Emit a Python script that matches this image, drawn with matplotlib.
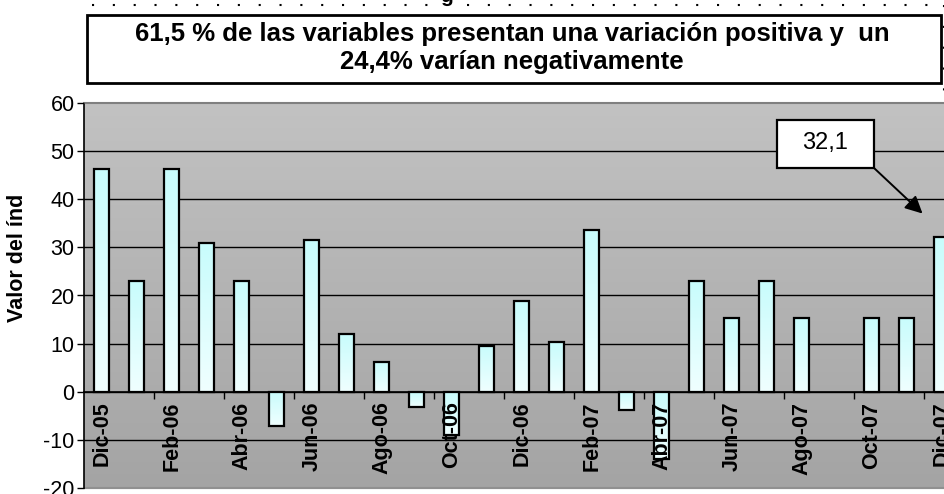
import numpy as np
import matplotlib
matplotlib.use("Agg")
import matplotlib.pyplot as plt
from matplotlib.colors import LinearSegmentedColormap
from matplotlib.patches import Rectangle
from matplotlib.lines import Line2D

plt.rcParams['font.family'] = ['Liberation Sans', 'DejaVu Sans']
plt.rcParams['axes.unicode_minus'] = False

# datos
meses = ['Dic-05', 'Ene-06', 'Feb-06', 'Mar-06', 'Abr-06', 'May-06', 'Jun-06',
         'Jul-06', 'Ago-06', 'Sep-06', 'Oct-06', 'Nov-06', 'Dic-06', 'Ene-07',
         'Feb-07', 'Mar-07', 'Abr-07', 'May-07', 'Jun-07', 'Jul-07', 'Ago-07',
         'Sep-07', 'Oct-07', 'Nov-07', 'Dic-07']
valores = [46.2, 23.1, 46.2, 30.8, 23.1, -7.1, 31.6, 12.0, 6.3, -3.1, -9.0, 9.6,
           18.8, 10.3, 33.5, -3.8, -14.0, 23.1, 15.4, 23.1, 15.4, 0.0, 15.4, 15.4, 32.1]
titulo = ("61,5 % de las variables presentan una variación positiva y  un\n"
          "24,4% varían negativamente")
etiqueta_y = "Valor del índ"
anotacion = "32,1"

W, H = 945, 494
fig = plt.figure(figsize=(W / 100, H / 100), dpi=100)

def fx(px):
    return px / W

def fy(py):
    return 1 - py / H

# area de grafico (se sale por la derecha como en el original)
left, top, bottom = 84.3, 102.7, 488.3
ax = fig.add_axes([fx(left), fy(bottom), 875 / W, (bottom - top) / H])

x = np.arange(len(meses))
ymin, ymax = -20, 60

# fondo degradado gris
fondo = LinearSegmentedColormap.from_list('fondo', ['#a4a4a4', '#c2c2c2'])
ax.imshow(np.linspace(0, 1, 256).reshape(-1, 1), cmap=fondo, origin='lower',
          extent=[-0.5, len(meses) - 0.5, ymin, ymax], aspect='auto', zorder=0)

# lineas de division
for v in np.arange(ymin + 10, ymax, 10):
    ax.axhline(v, color='black', lw=1.0, zorder=1)

# barras con degradado cian
cian = LinearSegmentedColormap.from_list('cian', ['#f0ffff', '#c8fcfc'])
ancho = 0.43
grad = np.linspace(0, 1, 128).reshape(-1, 1)
barras = ax.bar(x, valores, width=ancho, facecolor='none', edgecolor='black',
                linewidth=1.6, zorder=3)
for b in barras:
    if b.get_height() == 0:
        b.set_visible(False)
        continue
    x0, y0 = b.get_x(), b.get_y()
    x1, y1 = x0 + b.get_width(), y0 + b.get_height()
    ax.imshow(grad, cmap=cian, origin='lower', aspect='auto',
              extent=[x0, x1, min(y0, y1), max(y0, y1)], zorder=2)

ax.set_xlim(-0.5, len(meses) - 0.5)
ax.set_ylim(ymin, ymax)

# ejes
ax.spines['bottom'].set_position(('data', 0))
ax.spines['bottom'].set_linewidth(1.2)
ax.spines['left'].set_linewidth(1.2)
ax.spines['top'].set_color('#808080')
ax.spines['top'].set_linewidth(1.5)
ax.spines['right'].set_visible(False)
ax.add_patch(Rectangle((0, 0), 1, 0.0, transform=ax.transAxes, fill=False,
                       edgecolor='#909090', lw=1.5, clip_on=False))
ax.set_axisbelow(False)

ax.set_xticks(x[::2])
ax.set_xticklabels(meses[::2], rotation=90, fontsize=15.5, fontweight='bold',
                   va='top')
ax.set_xticks(x[1::2] + 0.5, minor=True)
ax.tick_params(axis='x', which='major', length=0, pad=7)
ax.tick_params(axis='x', which='minor', length=5, direction='out', width=1)

ax.set_yticks(np.arange(ymin, ymax + 1, 10))
ax.tick_params(axis='y', length=5, width=1, labelsize=15.5, pad=2)

fig.text(fx(18), fy(258), etiqueta_y, rotation=90, fontsize=15.5,
         fontweight='bold', ha='center', va='center')

# anotacion: cuadro fijo y flecha desde su esquina inferior derecha
caja_x0, caja_x1, caja_y0, caja_y1 = 777, 874, 120, 168
ax.add_patch(Rectangle((fx(caja_x0), fy(caja_y1)), fx(caja_x1 - caja_x0),
                       (caja_y1 - caja_y0) / H, transform=fig.transFigure,
                       facecolor='white', edgecolor='black', lw=1.6,
                       clip_on=False, zorder=6))
ax.text(fx((caja_x0 + caja_x1) / 2), fy((caja_y0 + caja_y1) / 2 - 1), anotacion,
        transform=fig.transFigure, fontsize=17, ha='center', va='center',
        zorder=7)
ax.annotate('', xy=(len(meses) - 1.55, 37.0), xycoords='data',
            xytext=(fx(caja_x1), fy(caja_y1)), textcoords='figure fraction',
            arrowprops=dict(arrowstyle='-|>', color='black', lw=1.4,
                            mutation_scale=26, shrinkA=0, shrinkB=0),
            zorder=6)

# cuadro del titulo
fig.patches.append(Rectangle((fx(86.7), fy(83)), fx(941 - 86.7), (83 - 14.7) / H,
                             transform=fig.transFigure, fill=False,
                             edgecolor='black', lw=2))
fig.text(fx(512), fy(48), titulo, ha='center', va='center', fontsize=18.5,
         fontweight='bold', linespacing=1.2)

# restos del marco punteado superior
fig.lines.append(Line2D([fx(92), fx(945)], [fy(5), fy(5)],
                        transform=fig.transFigure, color='black', lw=1.5,
                        linestyle=(0, (1, 9))))
fig.lines.append(Line2D([fx(944), fx(944)], [fy(5), fy(92)],
                        transform=fig.transFigure, color='black', lw=1.5,
                        linestyle=(0, (1, 9))))
fig.text(fx(447), fy(2), 'g', ha='center', va='baseline', fontsize=15,
         fontweight='bold')

fig.savefig('out.png', dpi=100)
